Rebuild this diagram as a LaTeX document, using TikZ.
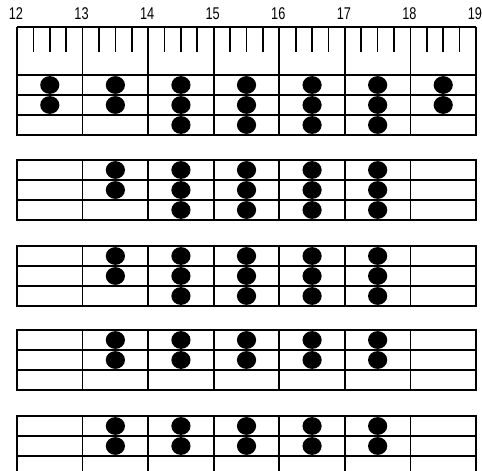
\documentclass[tikz,border=0pt]{standalone}
\usepackage{fontspec}
\setmainfont{Liberation Sans}[FakeStretch=0.75]
\usetikzlibrary{positioning}

% one staff of three rows: top, bottom
\newcommand{\staffgrid}[2]{%
  \draw[gridline] (17,#1) rectangle (476,#2);
  \draw[gridline] (17,#1+20) -- (476,#1+20);
  \draw[gridline] (17,#1+40) -- (476,#1+40);
  \foreach \i in {1,...,6}
    {\draw[gridline] (17+65.57*\i,#1) -- (17+65.57*\i,#2);}
  \draw[gridline, line width=2.4pt] (17,#1) -- (17,#2);}

% beads in one column: row top, column, count
\newcommand{\beadcol}[3]{%
  \foreach \r in {1,...,#3}
    {\fill[bead] (49.8+65.57*#2,#1+20*\r-10) ellipse [x radius=9.6, y radius=8.9];}}

\begin{document}
\begin{tikzpicture}[x=1pt, y=-1pt,
    gridline/.style={line width=1.8pt, black},
    tickline/.style={line width=1.7pt, black},
    bead/.style={fill=black},
    scalelabel/.style={font=\fontsize{17}{17}\selectfont, anchor=base, inner sep=0pt}]
  \useasboundingbox (0,0) rectangle (482,471);

  % Scale numbers
  \foreach \n [count=\i from 0] in {12,...,19}
    {\node[scalelabel] (num\n) at (16+65.57*\i,19.5) {\n};}

  % Block 1 with ticks
  \staffgrid{75}{135}
  \draw[gridline] (17,27) -- (476,27);
  \foreach \i in {0,...,7}
    {\draw[gridline] (17+65.57*\i,27) -- (17+65.57*\i,75);}
  \draw[gridline, line width=2.4pt] (17,27) -- (17,75);
  \foreach \i in {0,...,6}
    {\foreach \k in {1,2,3}
      {\draw[tickline] (17+65.57*\i+16.39*\k,27) -- ++(0,25);}}
  \foreach \c in {0,1,6} {\beadcol{75}{\c}{2}}
  \foreach \c in {2,...,5} {\beadcol{75}{\c}{3}}

  % Block 2
  \staffgrid{160}{220}
  \beadcol{160}{1}{2}
  \foreach \c in {2,...,5} {\beadcol{160}{\c}{3}}

  % Block 3
  \staffgrid{246}{306}
  \beadcol{246}{1}{2}
  \foreach \c in {2,...,5} {\beadcol{246}{\c}{3}}

  % Block 4
  \staffgrid{330}{390}
  \foreach \c in {1,...,5} {\beadcol{330}{\c}{2}}

  % Block 5 (runs off the bottom)
  \staffgrid{416}{480}
  \foreach \c in {1,...,5} {\beadcol{416}{\c}{2}}
\end{tikzpicture}
\end{document}
